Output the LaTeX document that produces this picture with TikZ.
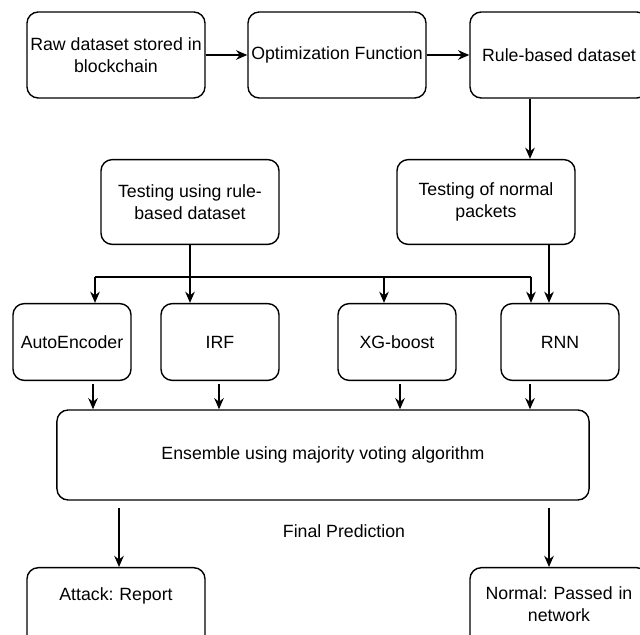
\documentclass[tikz,border=0pt]{standalone}
\usepackage{fontspec}
\setmainfont{Liberation Sans}
\frenchspacing
\usetikzlibrary{arrows.meta, positioning, calc}
\tikzstyle{block} = [rectangle, rounded corners=8pt, draw=black, line width=1pt, align=center, inner sep=0pt, font=\fontsize{12.6}{15.2}\selectfont]
\tikzstyle{wide} = [block, minimum width=4.45cm, minimum height=2.15cm]
\tikzstyle{model} = [block, minimum width=2.95cm, minimum height=1.92cm]
\tikzstyle{outcome} = [block, anchor=north, minimum width=4.45cm, minimum height=2.5cm, text width=4.2cm, text height=0.25cm]
\tikzstyle{arrow} = [line width=1pt, -{Stealth[length=2.8mm,width=2.4mm]}]

\begin{document}
\begin{tikzpicture}[x=0.025cm, y=-0.025cm]
\useasboundingbox (0,0) rectangle (640,635);
\clip (0,0) rectangle (640,635);

\node[wide] (raw) at (116,55) {Raw dataset stored in\\blockchain};
\node[wide] (optim) at (337,55) {Optimization Function};
\node[wide] (rule) at (559,55) {Rule-based dataset};

\node[wide, minimum height=2.12cm] (testrule) at (190,202) {Testing using rule-\\based dataset};
\node[wide, minimum height=2.12cm] (testnormal) at (486,202) {Testing of normal\\packets};

\node[model] (autoenc) at (72,342) {AutoEncoder};
\node[model] (irf) at (220,342) {IRF};
\node[model] (xgb) at (397,342) {XG-boost};
\node[model] (rnn) at (560,342) {RNN};

\node[block, minimum width=13.3cm, minimum height=2.25cm] (ensemble) at (323,455)
{Ensemble using majority voting algorithm};
\node[block, draw=none] (final) at (344,531) {Final Prediction};

\node[outcome, text depth=1.1cm] (attack) at (116,567) {Attack: Report};
\node[outcome, text depth=1.15cm] (normal) at (559,567) {Normal: Passed in\\network};

\draw[arrow] (raw) -- (optim);
\draw[arrow] (optim) -- (rule);
\draw[arrow] (rule.south -| 530,0) -- (testnormal.north -| 530,0);

\coordinate (bus) at (190,277);
\draw[line width=1pt] (bus -| 95,0) -- (bus -| 531,0);
\draw[arrow] (testrule.south) -- (testrule.south |- irf.north);
\foreach \x/\n in {95/autoenc, 384/xgb, 531/rnn}
  \draw[arrow] (bus -| \x,0) -- (\n.north -| \x,0);
\draw[arrow] (testnormal.south -| 549,0) -- (rnn.north -| 549,0);

\foreach \x/\n in {93/autoenc, 219/irf, 400/xgb, 530/rnn}
  \draw[arrow, shorten <=2pt] (\n.south -| \x,0) -- (ensemble.north -| \x,0);

\draw[arrow, shorten <=5pt] (ensemble.south -| 119,0) -- (attack.north -| 119,0);
\draw[arrow, shorten <=5pt] (ensemble.south -| 549,0) -- (normal.north -| 549,0);
\end{tikzpicture}
\end{document}
